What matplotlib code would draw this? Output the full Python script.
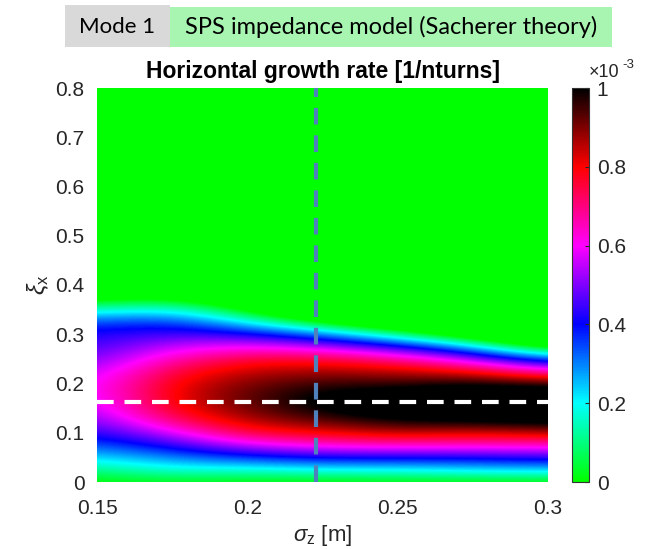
import numpy as np
import matplotlib
matplotlib.use("Agg")
import matplotlib.pyplot as plt
from matplotlib.colors import LinearSegmentedColormap
from matplotlib.patches import Rectangle

# -----------------------------
# Data (growth rate in units of 1e-3 per turn)
# -----------------------------

sigma_z = [0.15, 0.175, 0.2, 0.225, 0.25, 0.275, 0.3]
xi_x = [0.0, 0.025, 0.05, 0.075, 0.1, 0.125, 0.15, 0.175, 0.2, 0.225,
        0.25, 0.275, 0.3, 0.325, 0.35, 0.375, 0.4, 0.425, 0.45]

# one list per sigma_z column, values from xi_x = 0 upwards
growth_s150 = [0.0, 0.11, 0.22, 0.33, 0.42, 0.49, 0.54, 0.57, 0.57, 0.54,
               0.49, 0.45, 0.42, 0.34, 0.15, -0.05, -0.25, -0.45, -0.65]
growth_s175 = [0.02, 0.18, 0.30, 0.43, 0.57, 0.71, 0.79, 0.81, 0.80, 0.75,
               0.66, 0.56, 0.46, 0.37, 0.20, 0.0, -0.2, -0.4, -0.6]
growth_s200 = [0.0, 0.17, 0.36, 0.57, 0.76, 0.86, 0.91, 0.93, 0.90, 0.85,
               0.76, 0.60, 0.43, 0.20, 0.0, -0.2, -0.4, -0.6, -0.8]
growth_s225 = [0.0, 0.20, 0.41, 0.63, 0.80, 0.93, 1.01, 1.02, 0.96, 0.87,
               0.76, 0.55, 0.30, 0.0, -0.3, -0.55, -0.8, -1.0, -1.2]
growth_s250 = [0.0, 0.20, 0.41, 0.64, 0.86, 1.00, 1.10, 1.08, 0.95, 0.85,
               0.68, 0.43, 0.12, -0.2, -0.5, -0.8, -1.0, -1.2, -1.4]
growth_s275 = [0.0, 0.23, 0.41, 0.64, 0.82, 1.02, 1.12, 1.12, 1.00, 0.80,
               0.54, 0.24, -0.1, -0.4, -0.7, -1.0, -1.2, -1.4, -1.6]
growth_s300 = [0.0, 0.24, 0.44, 0.64, 0.86, 1.05, 1.15, 1.12, 0.95, 0.63,
               0.30, -0.05, -0.4, -0.7, -1.0, -1.3, -1.5, -1.7, -1.9]

sigma_z_marker = 0.223
xi_x_marker = 0.162

x_ticks = [0.15, 0.2, 0.25, 0.3]
y_ticks = [0, 0.1, 0.2, 0.3, 0.4, 0.5, 0.6, 0.7, 0.8]
cbar_ticks = [0, 0.2, 0.4, 0.6, 0.8, 1.0]

# -----------------------------
# Figure
# -----------------------------

plt.rcParams['font.family'] = ['Liberation Sans', 'DejaVu Sans']
plt.rcParams['mathtext.fontset'] = 'custom'
plt.rcParams['mathtext.rm'] = 'Liberation Sans'
plt.rcParams['mathtext.it'] = 'Liberation Sans:italic'
TEXT_COLOR = "#262626"
FS = 15

growth = np.array([growth_s150, growth_s175, growth_s200, growth_s225,
                   growth_s250, growth_s275, growth_s300]).T

cmap = LinearSegmentedColormap.from_list(
    "growth",
    [(0.0, "#00ff00"), (0.2, "#00ffff"), (0.4, "#0000ff"),
     (0.6, "#ff00ff"), (0.8, "#ff0000"), (1.0, "#000000")]
)

fig = plt.figure(figsize=(6.58, 5.49), dpi=100)
ax = fig.add_axes([97 / 658, 67 / 549, 451 / 658, 394 / 549])
cax = fig.add_axes([572 / 658, 67 / 549, 16.5 / 658, 394 / 549])

ax.set_facecolor("#00ff00")
dx = sigma_z[1] - sigma_z[0]
dy = xi_x[1] - xi_x[0]
im = ax.imshow(
    growth,
    origin="lower",
    aspect="auto",
    cmap=cmap,
    vmin=0,
    vmax=1,
    interpolation="bicubic",
    extent=[sigma_z[0] - dx / 2, sigma_z[-1] + dx / 2,
            xi_x[0] - dy / 2, xi_x[-1] + dy / 2],
)
ax.set_xlim(0.15, 0.3)
ax.set_ylim(0, 0.8)

ax.axvline(sigma_z_marker, color="#4f81bd", lw=3, ls=(0, (4, 2.6)))
ax.axhline(xi_x_marker, color="white", lw=3, ls=(0, (4, 2.6)))

ax.set_xticks(x_ticks)
ax.set_xticklabels(["0.15", "0.2", "0.25", "0.3"])
ax.set_yticks(y_ticks)
ax.set_yticklabels(["0", "0.1", "0.2", "0.3", "0.4", "0.5", "0.6", "0.7", "0.8"])
ax.tick_params(length=0, labelsize=FS, colors=TEXT_COLOR)
ax.tick_params(axis="x", pad=12)
ax.tick_params(axis="y", pad=9)
for spine in ax.spines.values():
    spine.set_visible(False)

ax.set_title("Horizontal growth rate [1/nturns]", fontsize=16.5,
             fontweight="bold", color="black", pad=7)
ax.set_xlabel(r"$\sigma_{\rm z}$ [m]", fontsize=FS + 1, color=TEXT_COLOR,
              labelpad=4)
ax.set_ylabel(r"$\xi_{\rm x}$", fontsize=FS + 2, color=TEXT_COLOR, labelpad=3)

cb = fig.colorbar(im, cax=cax, ticks=cbar_ticks)
cb.ax.set_yticklabels(["0", "0.2", "0.4", "0.6", "0.8", "1"])
cb.ax.tick_params(length=3, direction="in", labelsize=FS,
                  colors=TEXT_COLOR, pad=6)
cb.outline.set_edgecolor("#333333")
cb.outline.set_linewidth(0.8)

# colorbar scale factor
fig.text(589 / 658, 1 - 77 / 549, "\u00d710", fontsize=13,
         color=TEXT_COLOR, ha="left", va="baseline")
fig.text(622 / 658, 1 - 68 / 549, "-3", fontsize=9.5,
         color=TEXT_COLOR, ha="left", va="baseline")

# header boxes
fig.patches.append(Rectangle((65 / 658, 1 - 47 / 549), 105 / 658, 42 / 549,
                             transform=fig.transFigure, facecolor="#d9d9d9",
                             edgecolor="none"))
fig.patches.append(Rectangle((170 / 658, 1 - 47 / 549), 442 / 658, 40 / 549,
                             transform=fig.transFigure, facecolor="#a8f5b2",
                             edgecolor="none"))
fig.text(117 / 658, 1 - 27 / 549, "Mode 1", fontsize=16, family="Lato",
         ha="center", va="center", color="black")
fig.text(391 / 658, 1 - 27 / 549, "SPS impedance model (Sacherer theory)",
         fontsize=17, family="Lato", ha="center", va="center", color="black")

fig.savefig("out.png", dpi=100)
